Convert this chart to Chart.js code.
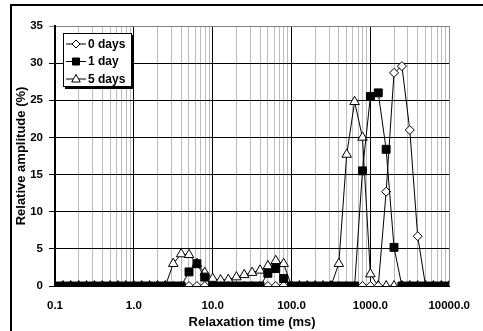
<!DOCTYPE html>
<html>
<head>
<meta charset="utf-8">
<script src="https://cdn.jsdelivr.net/npm/chart.js@4/dist/chart.umd.min.js"></script>
<style>
  html, body { margin: 0; padding: 0; background: #fff; }
  canvas { display: block; }
</style>
</head>
<body>
<canvas id="chart" width="483" height="331"></canvas>
<script>
// relaxation times (ms), 10 points per decade
const times = [0.1, 0.126, 0.158, 0.2, 0.251, 0.316, 0.398, 0.501, 0.631, 0.794,
  1, 1.26, 1.58, 2, 2.51, 3.16, 3.98, 5.01, 6.31, 7.94,
  10, 12.6, 15.8, 20, 25.1, 31.6, 39.8, 50.1, 63.1, 79.4,
  100, 126, 158, 200, 251, 316, 398, 501, 631, 794,
  1000, 1259, 1585, 1995, 2512, 3162, 3981, 5012, 6310, 7943, 10000];

const days0 = [0, 0, 0, 0, 0, 0, 0, 0, 0, 0,
  0, 0, 0, 0, 0, 0, 0, 0, 0, 0,
  0, 0, 0, 0, 0, 0, 0, 0, 0, 0,
  0, 0, 0, 0, 0, 0, 0, 0, 0, 0,
  0, 0, 12.7, 28.7, 29.6, 21.0, 6.7, 0, 0, 0, 0];

const days1 = [0, 0, 0, 0, 0, 0, 0, 0, 0, 0,
  0, 0, 0, 0, 0, 0, 0, 1.9, 3.0, 1.2,
  0, 0, 0, 0, 0, 0, 0, 1.7, 2.35, 1.0,
  0, 0, 0, 0, 0, 0, 0, 0, 0, 15.5,
  25.5, 26.0, 18.4, 5.2, 0, 0, 0, 0, 0, 0, 0];

const days5 = [0, 0, 0, 0, 0, 0, 0, 0, 0, 0,
  0, 0, 0, 0, 0, 3.0, 4.3, 4.2, 3.0, 1.8,
  1.0, 0.8, 0.85, 1.2, 1.5, 1.8, 2.1, 2.7, 3.4, 3.0,
  0, 0, 0, 0, 0, 0, 3.0, 17.7, 24.8, 20.0,
  1.6, 0, 0, 0, 0, 0, 0, 0, 0, 0, 0];

const seriesNames = ['0 days', '1 day', '5 days'];
const decades = [0.1, 1, 10, 100, 1000, 10000];
const xTickLabels = ['0.1', '1.0', '10.0', '100.0', '1000.0', '10000.0'];

const FONT = '"Liberation Sans", Arial, sans-serif';
const pts = vals => vals.map((v, i) => ({ x: times[i], y: v }));

// outer frame + legend box
const decor = {
  id: 'decor',
  beforeDraw(chart) {
    const c = chart.ctx;
    c.save();
    c.fillStyle = '#fff';
    c.fillRect(0, 0, chart.width, chart.height);
    c.restore();
  },
  afterDraw(chart) {
    const c = chart.ctx;
    c.save();
    c.strokeStyle = '#000';
    c.lineWidth = 2;
    c.beginPath();
    c.moveTo(11, chart.height);
    c.lineTo(11, 5);
    c.lineTo(chart.width, 5);
    c.stroke();

    // legend with shadow
    c.fillStyle = '#000';
    c.fillRect(65, 35, 69, 54);
    c.fillStyle = '#fff';
    c.fillRect(63, 33, 69, 54);
    c.lineWidth = 1;
    c.strokeRect(63.5, 33.5, 68, 53);

    const rows = [44, 61.5, 79];
    const styles = chart.data.datasets;
    c.font = 'bold 12px ' + FONT;
    c.textBaseline = 'middle';
    rows.forEach((y, i) => {
      c.strokeStyle = '#000';
      c.lineWidth = 1;
      c.beginPath();
      c.moveTo(66, y);
      c.lineTo(86, y);
      c.stroke();
      const ds = styles[i];
      c.fillStyle = ds.pointBackgroundColor;
      c.beginPath();
      if (ds.pointStyle === 'rectRot') {
        c.moveTo(76, y - 4); c.lineTo(80, y); c.lineTo(76, y + 4); c.lineTo(72, y);
      } else if (ds.pointStyle === 'rect') {
        c.rect(72.5, y - 3.5, 7, 7);
      } else {
        c.moveTo(76, y - 4.5); c.lineTo(80.3, y + 3); c.lineTo(71.7, y + 3);
      }
      c.closePath();
      c.fill();
      c.stroke();
      c.fillStyle = '#000';
      c.fillText(seriesNames[i], 88, y + 0.5);
    });
    c.restore();
  }
};

new Chart(document.getElementById('chart'), {
  type: 'line',
  data: {
    datasets: [
      { label: seriesNames[0], data: pts(days0), order: 1,
        pointStyle: 'rectRot', pointRadius: 4.5, pointBackgroundColor: '#fff' },
      { label: seriesNames[1], data: pts(days1), order: 0,
        pointStyle: 'rect', pointRadius: 5.6, pointBackgroundColor: '#000' },
      { label: seriesNames[2], data: pts(days5), order: 2,
        pointStyle: 'triangle', pointRadius: 5.5, pointBackgroundColor: '#fff' }
    ].map(d => Object.assign({
      borderColor: '#000', borderWidth: 1, pointBorderColor: '#000',
      pointBorderWidth: 1, tension: 0, fill: false
    }, d))
  },
  options: {
    responsive: false,
    animation: false,
    devicePixelRatio: 1,
    layout: { padding: { top: 26, right: 31, left: 0, bottom: 0 } },
    plugins: { legend: { display: false }, tooltip: { enabled: false } },
    scales: {
      x: {
        type: 'logarithmic',
        min: 0.1,
        max: 10000,
        afterBuildTicks(scale) {
          const t = [];
          decades.forEach((d, i) => {
            if (i === decades.length - 1) { t.push({ value: d }); return; }
            for (let m = 1; m < 10; m++) t.push({ value: +(d * m).toPrecision(3) });
          });
          scale.ticks = t;
        },
        afterFit(scale) { scale.height = 45; },
        ticks: {
          autoSkip: false,
          maxRotation: 0,
          padding: 13,
          color: '#000',
          font: { family: FONT, size: 11.5, weight: 'bold' },
          callback(v) {
            const i = decades.indexOf(v);
            return i >= 0 ? xTickLabels[i] : '';
          }
        },
        grid: {
          drawTicks: false,
          lineWidth: 1,
          color(ctx) {
            const v = ctx.tick && ctx.tick.value;
            if (v === 10000) return '#909090';
            return decades.includes(v) ? '#000' : '#bdbdbd';
          }
        },
        border: { color: '#000', width: 1 },
        title: {
          display: true,
          text: 'Relaxation time (ms)',
          color: '#000',
          font: { family: FONT, size: 13, weight: 'bold' },
          padding: { top: 0, bottom: 1 }
        }
      },
      y: {
        min: 0,
        max: 35,
        afterFit(scale) { scale.width = 55; },
        ticks: {
          stepSize: 5,
          padding: 6,
          color: '#000',
          font: { family: FONT, size: 11.5, weight: 'bold' }
        },
        grid: {
          tickLength: 6,
          lineWidth: 1,
          color(ctx) {
            return ctx.tick && ctx.tick.value === 35 ? '#808080' : '#000';
          }
        },
        border: { color: '#000', width: 2 },
        title: {
          display: true,
          text: 'Relative amplitude (%)',
          color: '#000',
          font: { family: FONT, size: 13, weight: 'bold' },
          padding: { top: 14, bottom: 0 }
        }
      }
    }
  },
  plugins: [decor]
});
</script>
</body>
</html>
